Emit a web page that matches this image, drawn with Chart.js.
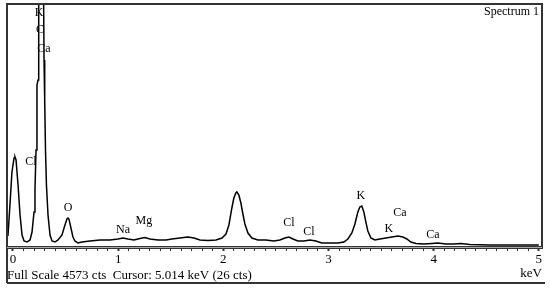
<!DOCTYPE html>
<html>
<head>
<meta charset="utf-8">
<script src="https://cdn.jsdelivr.net/npm/chart.js@4/dist/chart.umd.min.js"></script>
<style>
  html, body { margin: 0; padding: 0; background: #fff; }
  #wrap { width: 550px; height: 291px; position: relative; }
</style>
</head>
<body>
<div id="wrap"><canvas id="spectrum"></canvas></div>
<script>
// spectrum trace (keV, counts)
const energy = [
  -0.048, -0.029, -0.010, 0.010, 0.019, 0.029, 0.048, 0.067, 0.086, 0.105,
  0.133, 0.162, 0.181, 0.200, 0.209, 0.219, 0.228, 0.238, 0.242, 0.247,
  0.266, 0.290, 0.295, 0.299, 0.304, 0.309, 0.318, 0.333, 0.352, 0.371,
  0.399, 0.428, 0.466, 0.494, 0.513, 0.523, 0.532, 0.551, 0.570, 0.589,
  0.618, 0.656, 0.732, 0.827, 0.922, 0.998, 1.046, 1.093, 1.150, 1.207,
  1.255, 1.302, 1.378, 1.454, 1.511, 1.587, 1.663, 1.721, 1.778, 1.854,
  1.930, 1.987, 2.025, 2.053, 2.081, 2.100, 2.119, 2.129, 2.148, 2.167,
  2.186, 2.205, 2.234, 2.272, 2.329, 2.405, 2.481, 2.538, 2.586, 2.624,
  2.662, 2.709, 2.766, 2.823, 2.880, 2.937, 3.013, 3.089, 3.146, 3.184,
  3.222, 3.251, 3.279, 3.298, 3.317, 3.336, 3.355, 3.374, 3.403, 3.441,
  3.489, 3.546, 3.603, 3.660, 3.707, 3.745, 3.783, 3.831, 3.907, 3.983,
  4.040, 4.116, 4.192, 4.259, 4.344, 4.534, 4.724, 5.000
];
const counts = [
  207, 790, 1412, 1675, 1694, 1637, 1167, 602, 226, 113,
  94, 132, 282, 659, 1073, 1826, 3049, 3143, 3896, 5000,
  5800, 5000, 3519, 2861, 2767, 1826, 1167, 602, 226, 113,
  94, 132, 226, 414, 527, 546, 527, 358, 188, 113,
  75, 94, 113, 132, 132, 151, 169, 151, 132, 160,
  179, 151, 132, 132, 151, 169, 188, 169, 132, 122,
  132, 169, 245, 414, 734, 922, 1016, 1035, 979, 828,
  621, 433, 263, 169, 132, 132, 113, 132, 169, 188,
  151, 113, 113, 132, 113, 75, 75, 75, 94, 151,
  263, 433, 659, 753, 772, 659, 471, 301, 169, 132,
  151, 169, 188, 207, 188, 151, 94, 66, 56, 66,
  75, 56, 56, 66, 47, 38, 38, 38
];

// element labels placed on the spectrum
const peakNames = ["K", "C", "Ca", "Cl", "O", "Na", "Mg", "Cl", "Cl", "K", "Ca", "K", "Ca"];
const peakEnergy = [0.247, 0.257, 0.295, 0.171, 0.523, 1.046, 1.245, 2.624, 2.814, 3.308, 3.679, 3.574, 3.992];
const peakCounts = [4405, 4085, 3727, 1600, 734, 320, 489, 452, 282, 960, 640, 339, 226];

const fullScale = 4573;
const tickValues = [];
for (let i = 0; i <= 50; i++) tickValues.push(i / 10);

const serif = "'Liberation Serif', 'DejaVu Serif', serif";

const points = energy.map((e, i) => ({ x: e, y: counts[i] }));

// frame, labels and caption text
const decorations = {
  id: "decorations",
  afterDraw(chart) {
    const c = chart.ctx;
    const a = chart.chartArea;
    const xs = chart.scales.x;
    const ys = chart.scales.y;
    c.save();

    // outer frame
    c.strokeStyle = "#333";
    c.lineWidth = 2;
    c.beginPath();
    c.moveTo(a.left, 283);
    c.lineTo(a.left, a.top);
    c.lineTo(a.right, a.top);
    c.lineTo(a.right, a.bottom);
    c.stroke();
    c.beginPath();
    c.moveTo(a.left, 283);
    c.lineTo(a.right + 3, 283);
    c.stroke();

    // light middle stripe of the axis line
    c.strokeStyle = "#aaa";
    c.lineWidth = 1;
    c.beginPath();
    c.moveTo(a.left, a.bottom + 0.5);
    c.lineTo(a.right, a.bottom + 0.5);
    c.stroke();

    c.fillStyle = "#000";
    c.font = "12px " + serif;
    c.textAlign = "center";
    c.textBaseline = "middle";
    peakNames.forEach((name, i) => {
      const px = xs.getPixelForValue(peakEnergy[i]);
      const py = ys.getPixelForValue(peakCounts[i]);
      c.fillText(name, px, py);
    });

    c.textAlign = "right";
    c.fillText("Spectrum 1", a.right - 3, 12);

    c.font = "13px " + serif;
    c.textAlign = "left";
    c.fillText("Full Scale " + fullScale + " cts  Cursor: 5.014 keV (26 cts)", a.left, 276);
    c.textAlign = "right";
    c.fillText("keV", a.right, 274);
    c.restore();
  }
};

new Chart(document.getElementById("spectrum"), {
  type: "line",
  data: {
    datasets: [
      {
        data: points,
        borderColor: "#000",
        borderWidth: 1.5,
        pointRadius: 0,
        tension: 0,
        fill: false,
      },
    ],
  },
  options: {
    responsive: true,
    maintainAspectRatio: false,
    animation: false,
    layout: { padding: { left: 7, right: 8, top: 4, bottom: 8 } },
    plugins: { legend: { display: false }, tooltip: { enabled: false } },
    scales: {
      x: {
        type: "linear",
        min: -0.057,
        max: 5.03,
        afterBuildTicks: (scale) => {
          scale.ticks = tickValues.map((v) => ({ value: v }));
        },
        afterFit: (scale) => {
          scale.height = 36;
        },
        border: { display: true, color: "#333", width: 3 },
        grid: {
          drawOnChartArea: false,
          drawTicks: true,
          tickLength: 4,
          tickColor: "#333",
          tickWidth: (ctx) => (Number.isInteger(Math.round(ctx.tick.value * 10) / 10) ? 2 : 1),
        },
        ticks: {
          autoSkip: false,
          maxRotation: 0,
          padding: 1,
          color: "#000",
          font: { family: serif, size: 13 },
          callback: (v) => (Math.abs(v - Math.round(v)) < 1e-6 ? Math.round(v) : ""),
        },
      },
      y: {
        display: false,
        min: 0,
        max: fullScale,
      },
    },
  },
  plugins: [decorations],
});
</script>
</body>
</html>
